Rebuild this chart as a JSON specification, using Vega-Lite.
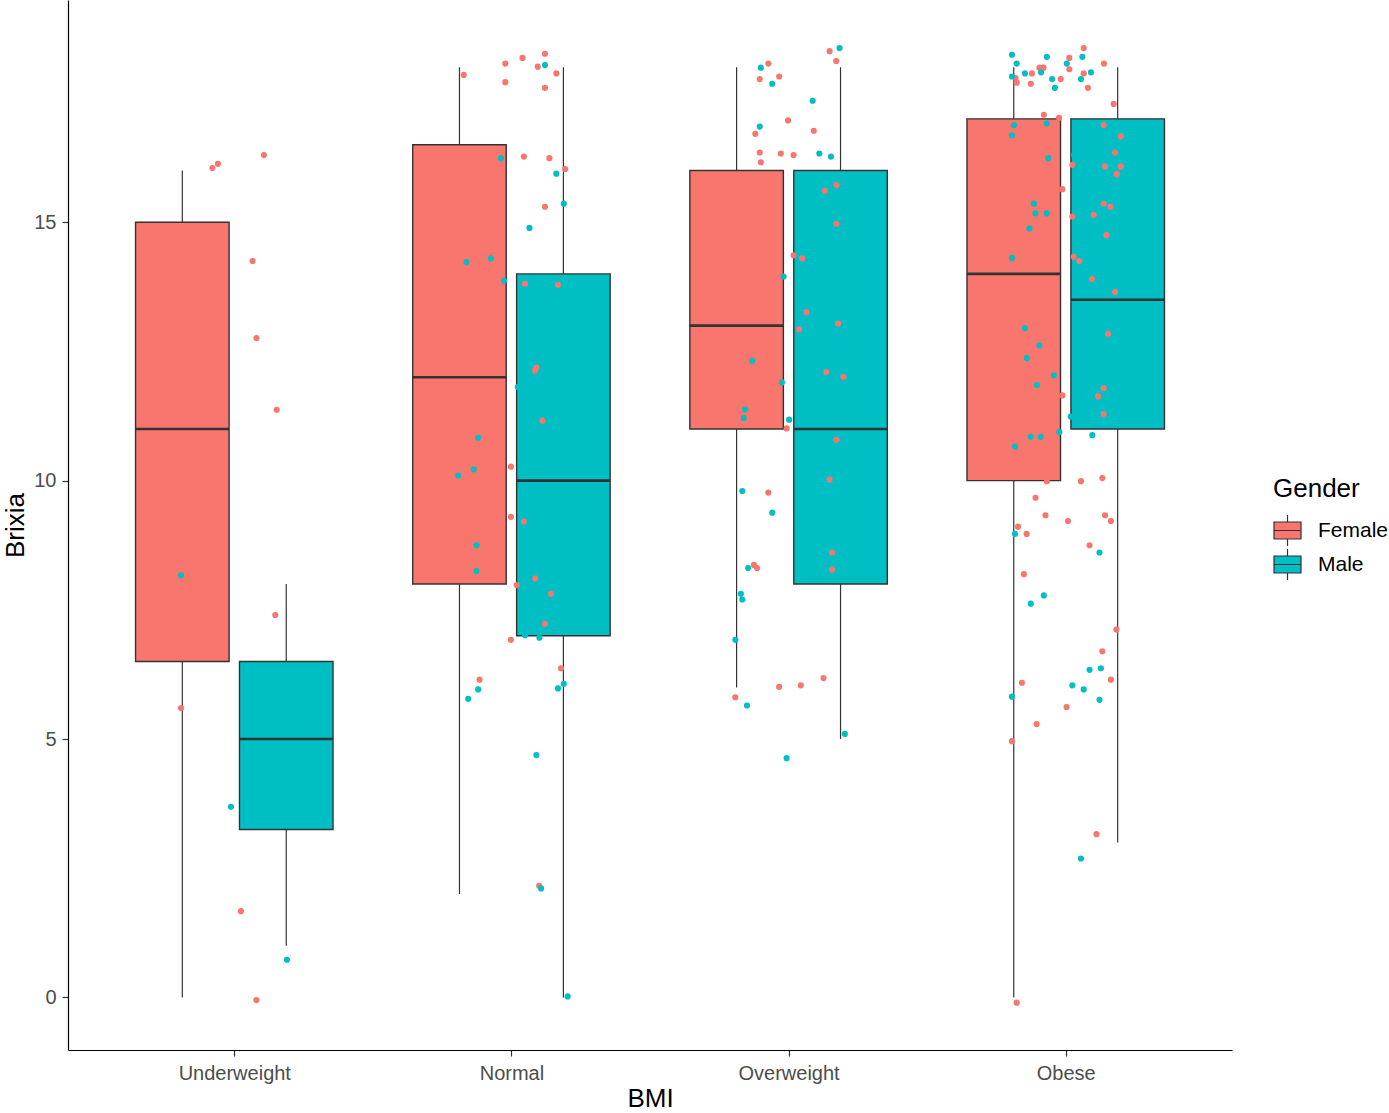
{
  "$schema": "https://vega.github.io/schema/vega-lite/v6.json",
  "width": 1164,
  "height": 1050,
  "autosize": {"type": "none"},
  "padding": {"left": 68, "top": 0, "right": 157, "bottom": 63},
  "background": "white",
  "config": {
    "view": {"stroke": null},
    "font": "Liberation Sans",
    "axis": {"grid": false, "domainColor": "#000000", "domainWidth": 1.2, "tickColor": "#333333", "tickSize": 6, "tickWidth": 1.2, "labelColor": "#4D4D4D", "labelFontSize": 20, "labelFont": "Liberation Sans", "titleFont": "Liberation Sans", "titleFontSize": 26, "titleFontWeight": "normal", "titleColor": "#000000"}
  },
  "datasets": {
    "boxes": [
      {"bmi": "Underweight", "cat": 1, "gender": "Female", "lo": 0, "q1": 6.5, "med": 11, "q3": 15, "hi": 16},
      {"bmi": "Underweight", "cat": 1, "gender": "Male", "lo": 1, "q1": 3.25, "med": 5, "q3": 6.5, "hi": 8},
      {"bmi": "Normal", "cat": 2, "gender": "Female", "lo": 2, "q1": 8, "med": 12, "q3": 16.5, "hi": 18},
      {"bmi": "Normal", "cat": 2, "gender": "Male", "lo": 0, "q1": 7, "med": 10, "q3": 14, "hi": 18},
      {"bmi": "Overweight", "cat": 3, "gender": "Female", "lo": 6, "q1": 11, "med": 13, "q3": 16, "hi": 18},
      {"bmi": "Overweight", "cat": 3, "gender": "Male", "lo": 5, "q1": 8, "med": 11, "q3": 16, "hi": 18},
      {"bmi": "Obese", "cat": 4, "gender": "Female", "lo": 0, "q1": 10, "med": 14, "q3": 17, "hi": 18},
      {"bmi": "Obese", "cat": 4, "gender": "Male", "lo": 3, "q1": 11, "med": 13.5, "q3": 17, "hi": 18}
    ],
    "points": [
      {"bmi": "Underweight", "gender": "Female", "pos": 0.921, "brixia": 16.05},
      {"bmi": "Underweight", "gender": "Female", "pos": 0.941, "brixia": 16.13},
      {"bmi": "Underweight", "gender": "Female", "pos": 1.107, "brixia": 16.30},
      {"bmi": "Underweight", "gender": "Female", "pos": 1.066, "brixia": 14.25},
      {"bmi": "Underweight", "gender": "Female", "pos": 1.080, "brixia": 12.76},
      {"bmi": "Underweight", "gender": "Female", "pos": 1.153, "brixia": 11.37},
      {"bmi": "Underweight", "gender": "Female", "pos": 1.148, "brixia": 7.40},
      {"bmi": "Underweight", "gender": "Female", "pos": 0.808, "brixia": 5.60},
      {"bmi": "Underweight", "gender": "Female", "pos": 1.024, "brixia": 1.67},
      {"bmi": "Underweight", "gender": "Female", "pos": 1.080, "brixia": -0.05},
      {"bmi": "Underweight", "gender": "Male", "pos": 0.808, "brixia": 8.17},
      {"bmi": "Underweight", "gender": "Male", "pos": 0.988, "brixia": 3.69},
      {"bmi": "Underweight", "gender": "Male", "pos": 1.190, "brixia": 0.73},

      {"bmi": "Normal", "gender": "Female", "pos": 1.828, "brixia": 17.85},
      {"bmi": "Normal", "gender": "Female", "pos": 1.978, "brixia": 18.07},
      {"bmi": "Normal", "gender": "Female", "pos": 2.040, "brixia": 18.18},
      {"bmi": "Normal", "gender": "Female", "pos": 2.121, "brixia": 18.26},
      {"bmi": "Normal", "gender": "Female", "pos": 2.095, "brixia": 18.01},
      {"bmi": "Normal", "gender": "Female", "pos": 2.162, "brixia": 17.88},
      {"bmi": "Normal", "gender": "Female", "pos": 1.978, "brixia": 17.71},
      {"bmi": "Normal", "gender": "Female", "pos": 2.121, "brixia": 17.60},
      {"bmi": "Normal", "gender": "Female", "pos": 2.045, "brixia": 16.27},
      {"bmi": "Normal", "gender": "Female", "pos": 2.137, "brixia": 16.24},
      {"bmi": "Normal", "gender": "Female", "pos": 2.194, "brixia": 16.03},
      {"bmi": "Normal", "gender": "Female", "pos": 2.121, "brixia": 15.30},
      {"bmi": "Normal", "gender": "Female", "pos": 2.049, "brixia": 13.81},
      {"bmi": "Normal", "gender": "Female", "pos": 2.168, "brixia": 13.79},
      {"bmi": "Normal", "gender": "Female", "pos": 2.090, "brixia": 12.19},
      {"bmi": "Normal", "gender": "Female", "pos": 2.085, "brixia": 12.13},
      {"bmi": "Normal", "gender": "Female", "pos": 2.112, "brixia": 11.16},
      {"bmi": "Normal", "gender": "Female", "pos": 1.998, "brixia": 10.27},
      {"bmi": "Normal", "gender": "Female", "pos": 1.998, "brixia": 9.30},
      {"bmi": "Normal", "gender": "Female", "pos": 2.045, "brixia": 9.21},
      {"bmi": "Normal", "gender": "Female", "pos": 2.086, "brixia": 8.11},
      {"bmi": "Normal", "gender": "Female", "pos": 2.019, "brixia": 7.98},
      {"bmi": "Normal", "gender": "Female", "pos": 2.143, "brixia": 7.81},
      {"bmi": "Normal", "gender": "Female", "pos": 2.121, "brixia": 7.23},
      {"bmi": "Normal", "gender": "Female", "pos": 1.998, "brixia": 6.92},
      {"bmi": "Normal", "gender": "Female", "pos": 2.179, "brixia": 6.37},
      {"bmi": "Normal", "gender": "Female", "pos": 1.885, "brixia": 6.15},
      {"bmi": "Normal", "gender": "Female", "pos": 2.100, "brixia": 2.16},
      {"bmi": "Normal", "gender": "Male", "pos": 2.121, "brixia": 18.04},
      {"bmi": "Normal", "gender": "Male", "pos": 1.962, "brixia": 16.24},
      {"bmi": "Normal", "gender": "Male", "pos": 2.162, "brixia": 15.94},
      {"bmi": "Normal", "gender": "Male", "pos": 2.189, "brixia": 15.36},
      {"bmi": "Normal", "gender": "Male", "pos": 2.065, "brixia": 14.89},
      {"bmi": "Normal", "gender": "Male", "pos": 1.838, "brixia": 14.23},
      {"bmi": "Normal", "gender": "Male", "pos": 1.926, "brixia": 14.30},
      {"bmi": "Normal", "gender": "Male", "pos": 1.973, "brixia": 13.87},
      {"bmi": "Normal", "gender": "Male", "pos": 2.023, "brixia": 11.81},
      {"bmi": "Normal", "gender": "Male", "pos": 1.880, "brixia": 10.83},
      {"bmi": "Normal", "gender": "Male", "pos": 1.864, "brixia": 10.22},
      {"bmi": "Normal", "gender": "Male", "pos": 1.808, "brixia": 10.10},
      {"bmi": "Normal", "gender": "Male", "pos": 1.874, "brixia": 8.75},
      {"bmi": "Normal", "gender": "Male", "pos": 1.874, "brixia": 8.25},
      {"bmi": "Normal", "gender": "Male", "pos": 2.049, "brixia": 7.01},
      {"bmi": "Normal", "gender": "Male", "pos": 2.101, "brixia": 6.96},
      {"bmi": "Normal", "gender": "Male", "pos": 1.880, "brixia": 5.96},
      {"bmi": "Normal", "gender": "Male", "pos": 1.844, "brixia": 5.78},
      {"bmi": "Normal", "gender": "Male", "pos": 2.168, "brixia": 5.98},
      {"bmi": "Normal", "gender": "Male", "pos": 2.189, "brixia": 6.07},
      {"bmi": "Normal", "gender": "Male", "pos": 2.090, "brixia": 4.69},
      {"bmi": "Normal", "gender": "Male", "pos": 2.107, "brixia": 2.11},
      {"bmi": "Normal", "gender": "Male", "pos": 2.203, "brixia": 0.02},

      {"bmi": "Overweight", "gender": "Female", "pos": 2.927, "brixia": 18.07},
      {"bmi": "Overweight", "gender": "Female", "pos": 2.896, "brixia": 17.77},
      {"bmi": "Overweight", "gender": "Female", "pos": 2.966, "brixia": 17.82},
      {"bmi": "Overweight", "gender": "Female", "pos": 3.148, "brixia": 18.31},
      {"bmi": "Overweight", "gender": "Female", "pos": 3.172, "brixia": 18.12},
      {"bmi": "Overweight", "gender": "Female", "pos": 2.998, "brixia": 16.97},
      {"bmi": "Overweight", "gender": "Female", "pos": 2.880, "brixia": 16.71},
      {"bmi": "Overweight", "gender": "Female", "pos": 3.091, "brixia": 16.77},
      {"bmi": "Overweight", "gender": "Female", "pos": 2.896, "brixia": 16.35},
      {"bmi": "Overweight", "gender": "Female", "pos": 2.900, "brixia": 16.16},
      {"bmi": "Overweight", "gender": "Female", "pos": 2.972, "brixia": 16.33},
      {"bmi": "Overweight", "gender": "Female", "pos": 3.018, "brixia": 16.30},
      {"bmi": "Overweight", "gender": "Female", "pos": 3.173, "brixia": 15.72},
      {"bmi": "Overweight", "gender": "Female", "pos": 3.131, "brixia": 15.61},
      {"bmi": "Overweight", "gender": "Female", "pos": 3.173, "brixia": 14.97},
      {"bmi": "Overweight", "gender": "Female", "pos": 3.018, "brixia": 14.36},
      {"bmi": "Overweight", "gender": "Female", "pos": 3.049, "brixia": 14.30},
      {"bmi": "Overweight", "gender": "Female", "pos": 3.064, "brixia": 13.26},
      {"bmi": "Overweight", "gender": "Female", "pos": 3.179, "brixia": 13.04},
      {"bmi": "Overweight", "gender": "Female", "pos": 3.038, "brixia": 12.93},
      {"bmi": "Overweight", "gender": "Female", "pos": 3.136, "brixia": 12.10},
      {"bmi": "Overweight", "gender": "Female", "pos": 3.198, "brixia": 12.01},
      {"bmi": "Overweight", "gender": "Female", "pos": 2.993, "brixia": 11.01},
      {"bmi": "Overweight", "gender": "Female", "pos": 3.173, "brixia": 10.79},
      {"bmi": "Overweight", "gender": "Female", "pos": 3.148, "brixia": 10.02},
      {"bmi": "Overweight", "gender": "Female", "pos": 2.927, "brixia": 9.77},
      {"bmi": "Overweight", "gender": "Female", "pos": 3.157, "brixia": 8.61},
      {"bmi": "Overweight", "gender": "Female", "pos": 3.157, "brixia": 8.28},
      {"bmi": "Overweight", "gender": "Female", "pos": 2.875, "brixia": 8.37},
      {"bmi": "Overweight", "gender": "Female", "pos": 2.886, "brixia": 8.31},
      {"bmi": "Overweight", "gender": "Female", "pos": 3.126, "brixia": 6.18},
      {"bmi": "Overweight", "gender": "Female", "pos": 3.044, "brixia": 6.04},
      {"bmi": "Overweight", "gender": "Female", "pos": 2.966, "brixia": 6.01},
      {"bmi": "Overweight", "gender": "Female", "pos": 2.808, "brixia": 5.81},
      {"bmi": "Overweight", "gender": "Male", "pos": 2.900, "brixia": 17.99},
      {"bmi": "Overweight", "gender": "Male", "pos": 2.941, "brixia": 17.68},
      {"bmi": "Overweight", "gender": "Male", "pos": 3.087, "brixia": 17.35},
      {"bmi": "Overweight", "gender": "Male", "pos": 3.184, "brixia": 18.37},
      {"bmi": "Overweight", "gender": "Male", "pos": 2.896, "brixia": 16.85},
      {"bmi": "Overweight", "gender": "Male", "pos": 3.111, "brixia": 16.33},
      {"bmi": "Overweight", "gender": "Male", "pos": 3.153, "brixia": 16.27},
      {"bmi": "Overweight", "gender": "Male", "pos": 2.982, "brixia": 13.95},
      {"bmi": "Overweight", "gender": "Male", "pos": 2.869, "brixia": 12.32},
      {"bmi": "Overweight", "gender": "Male", "pos": 2.976, "brixia": 11.90},
      {"bmi": "Overweight", "gender": "Male", "pos": 2.843, "brixia": 11.38},
      {"bmi": "Overweight", "gender": "Male", "pos": 2.838, "brixia": 11.21},
      {"bmi": "Overweight", "gender": "Male", "pos": 3.002, "brixia": 11.18},
      {"bmi": "Overweight", "gender": "Male", "pos": 2.833, "brixia": 9.80},
      {"bmi": "Overweight", "gender": "Male", "pos": 2.941, "brixia": 9.38},
      {"bmi": "Overweight", "gender": "Male", "pos": 2.854, "brixia": 8.31},
      {"bmi": "Overweight", "gender": "Male", "pos": 2.828, "brixia": 7.81},
      {"bmi": "Overweight", "gender": "Male", "pos": 2.833, "brixia": 7.70},
      {"bmi": "Overweight", "gender": "Male", "pos": 2.808, "brixia": 6.92},
      {"bmi": "Overweight", "gender": "Male", "pos": 2.850, "brixia": 5.65},
      {"bmi": "Overweight", "gender": "Male", "pos": 3.203, "brixia": 5.10},
      {"bmi": "Overweight", "gender": "Male", "pos": 2.993, "brixia": 4.63},

      {"bmi": "Obese", "gender": "Female", "pos": 3.819, "brixia": 17.79},
      {"bmi": "Obese", "gender": "Female", "pos": 3.823, "brixia": 17.70},
      {"bmi": "Obese", "gender": "Female", "pos": 3.878, "brixia": 17.88},
      {"bmi": "Obese", "gender": "Female", "pos": 3.874, "brixia": 17.68},
      {"bmi": "Obese", "gender": "Female", "pos": 3.905, "brixia": 17.99},
      {"bmi": "Obese", "gender": "Female", "pos": 3.920, "brixia": 17.99},
      {"bmi": "Obese", "gender": "Female", "pos": 3.982, "brixia": 17.77},
      {"bmi": "Obese", "gender": "Female", "pos": 4.013, "brixia": 18.18},
      {"bmi": "Obese", "gender": "Female", "pos": 4.013, "brixia": 17.96},
      {"bmi": "Obese", "gender": "Female", "pos": 4.065, "brixia": 18.37},
      {"bmi": "Obese", "gender": "Female", "pos": 4.065, "brixia": 17.88},
      {"bmi": "Obese", "gender": "Female", "pos": 4.080, "brixia": 17.60},
      {"bmi": "Obese", "gender": "Female", "pos": 4.138, "brixia": 18.07},
      {"bmi": "Obese", "gender": "Female", "pos": 4.173, "brixia": 17.29},
      {"bmi": "Obese", "gender": "Female", "pos": 3.921, "brixia": 17.08},
      {"bmi": "Obese", "gender": "Female", "pos": 3.976, "brixia": 17.02},
      {"bmi": "Obese", "gender": "Female", "pos": 4.137, "brixia": 16.88},
      {"bmi": "Obese", "gender": "Female", "pos": 4.199, "brixia": 16.66},
      {"bmi": "Obese", "gender": "Female", "pos": 4.178, "brixia": 16.35},
      {"bmi": "Obese", "gender": "Female", "pos": 4.024, "brixia": 16.11},
      {"bmi": "Obese", "gender": "Female", "pos": 4.142, "brixia": 16.08},
      {"bmi": "Obese", "gender": "Female", "pos": 4.199, "brixia": 16.08},
      {"bmi": "Obese", "gender": "Female", "pos": 4.184, "brixia": 15.93},
      {"bmi": "Obese", "gender": "Female", "pos": 3.988, "brixia": 15.64},
      {"bmi": "Obese", "gender": "Female", "pos": 4.024, "brixia": 15.11},
      {"bmi": "Obese", "gender": "Female", "pos": 4.101, "brixia": 15.14},
      {"bmi": "Obese", "gender": "Female", "pos": 4.137, "brixia": 15.36},
      {"bmi": "Obese", "gender": "Female", "pos": 4.162, "brixia": 15.30},
      {"bmi": "Obese", "gender": "Female", "pos": 4.147, "brixia": 14.75},
      {"bmi": "Obese", "gender": "Female", "pos": 4.029, "brixia": 14.33},
      {"bmi": "Obese", "gender": "Female", "pos": 4.049, "brixia": 14.25},
      {"bmi": "Obese", "gender": "Female", "pos": 4.095, "brixia": 13.90},
      {"bmi": "Obese", "gender": "Female", "pos": 4.178, "brixia": 13.65},
      {"bmi": "Obese", "gender": "Female", "pos": 4.153, "brixia": 12.84},
      {"bmi": "Obese", "gender": "Female", "pos": 3.988, "brixia": 11.65},
      {"bmi": "Obese", "gender": "Female", "pos": 4.137, "brixia": 11.79},
      {"bmi": "Obese", "gender": "Female", "pos": 4.117, "brixia": 11.63},
      {"bmi": "Obese", "gender": "Female", "pos": 4.137, "brixia": 11.29},
      {"bmi": "Obese", "gender": "Female", "pos": 3.932, "brixia": 9.99},
      {"bmi": "Obese", "gender": "Female", "pos": 4.055, "brixia": 9.99},
      {"bmi": "Obese", "gender": "Female", "pos": 4.132, "brixia": 10.05},
      {"bmi": "Obese", "gender": "Female", "pos": 3.891, "brixia": 9.67},
      {"bmi": "Obese", "gender": "Female", "pos": 3.927, "brixia": 9.33},
      {"bmi": "Obese", "gender": "Female", "pos": 4.008, "brixia": 9.22},
      {"bmi": "Obese", "gender": "Female", "pos": 4.142, "brixia": 9.33},
      {"bmi": "Obese", "gender": "Female", "pos": 4.163, "brixia": 9.22},
      {"bmi": "Obese", "gender": "Female", "pos": 3.828, "brixia": 9.11},
      {"bmi": "Obese", "gender": "Female", "pos": 3.859, "brixia": 8.97},
      {"bmi": "Obese", "gender": "Female", "pos": 4.086, "brixia": 8.75},
      {"bmi": "Obese", "gender": "Female", "pos": 3.849, "brixia": 8.19},
      {"bmi": "Obese", "gender": "Female", "pos": 4.183, "brixia": 7.12},
      {"bmi": "Obese", "gender": "Female", "pos": 4.132, "brixia": 6.70},
      {"bmi": "Obese", "gender": "Female", "pos": 4.163, "brixia": 6.15},
      {"bmi": "Obese", "gender": "Female", "pos": 3.842, "brixia": 6.09},
      {"bmi": "Obese", "gender": "Female", "pos": 4.003, "brixia": 5.62},
      {"bmi": "Obese", "gender": "Female", "pos": 3.895, "brixia": 5.29},
      {"bmi": "Obese", "gender": "Female", "pos": 3.806, "brixia": 4.96},
      {"bmi": "Obese", "gender": "Female", "pos": 4.111, "brixia": 3.16},
      {"bmi": "Obese", "gender": "Female", "pos": 3.823, "brixia": -0.10},
      {"bmi": "Obese", "gender": "Male", "pos": 3.806, "brixia": 18.24},
      {"bmi": "Obese", "gender": "Male", "pos": 3.823, "brixia": 18.07},
      {"bmi": "Obese", "gender": "Male", "pos": 3.806, "brixia": 17.82},
      {"bmi": "Obese", "gender": "Male", "pos": 3.853, "brixia": 17.88},
      {"bmi": "Obese", "gender": "Male", "pos": 3.911, "brixia": 17.90},
      {"bmi": "Obese", "gender": "Male", "pos": 3.932, "brixia": 18.20},
      {"bmi": "Obese", "gender": "Male", "pos": 3.951, "brixia": 17.77},
      {"bmi": "Obese", "gender": "Male", "pos": 3.961, "brixia": 17.60},
      {"bmi": "Obese", "gender": "Male", "pos": 4.004, "brixia": 18.07},
      {"bmi": "Obese", "gender": "Male", "pos": 4.060, "brixia": 18.20},
      {"bmi": "Obese", "gender": "Male", "pos": 4.055, "brixia": 17.77},
      {"bmi": "Obese", "gender": "Male", "pos": 4.091, "brixia": 17.90},
      {"bmi": "Obese", "gender": "Male", "pos": 3.813, "brixia": 16.88},
      {"bmi": "Obese", "gender": "Male", "pos": 3.806, "brixia": 16.68},
      {"bmi": "Obese", "gender": "Male", "pos": 3.932, "brixia": 16.91},
      {"bmi": "Obese", "gender": "Male", "pos": 3.937, "brixia": 16.24},
      {"bmi": "Obese", "gender": "Male", "pos": 4.030, "brixia": 16.30},
      {"bmi": "Obese", "gender": "Male", "pos": 3.885, "brixia": 15.36},
      {"bmi": "Obese", "gender": "Male", "pos": 3.891, "brixia": 15.17},
      {"bmi": "Obese", "gender": "Male", "pos": 3.932, "brixia": 15.17},
      {"bmi": "Obese", "gender": "Male", "pos": 3.869, "brixia": 14.88},
      {"bmi": "Obese", "gender": "Male", "pos": 3.806, "brixia": 14.31},
      {"bmi": "Obese", "gender": "Male", "pos": 3.853, "brixia": 12.95},
      {"bmi": "Obese", "gender": "Male", "pos": 3.905, "brixia": 12.62},
      {"bmi": "Obese", "gender": "Male", "pos": 3.860, "brixia": 12.37},
      {"bmi": "Obese", "gender": "Male", "pos": 3.957, "brixia": 12.04},
      {"bmi": "Obese", "gender": "Male", "pos": 3.896, "brixia": 11.85},
      {"bmi": "Obese", "gender": "Male", "pos": 4.018, "brixia": 11.24},
      {"bmi": "Obese", "gender": "Male", "pos": 3.977, "brixia": 10.94},
      {"bmi": "Obese", "gender": "Male", "pos": 3.874, "brixia": 10.85},
      {"bmi": "Obese", "gender": "Male", "pos": 3.910, "brixia": 10.85},
      {"bmi": "Obese", "gender": "Male", "pos": 3.817, "brixia": 10.66},
      {"bmi": "Obese", "gender": "Male", "pos": 4.096, "brixia": 10.88},
      {"bmi": "Obese", "gender": "Male", "pos": 3.817, "brixia": 8.97},
      {"bmi": "Obese", "gender": "Male", "pos": 4.122, "brixia": 8.61},
      {"bmi": "Obese", "gender": "Male", "pos": 3.921, "brixia": 7.78},
      {"bmi": "Obese", "gender": "Male", "pos": 3.874, "brixia": 7.62},
      {"bmi": "Obese", "gender": "Male", "pos": 4.086, "brixia": 6.34},
      {"bmi": "Obese", "gender": "Male", "pos": 4.127, "brixia": 6.37},
      {"bmi": "Obese", "gender": "Male", "pos": 4.024, "brixia": 6.04},
      {"bmi": "Obese", "gender": "Male", "pos": 4.065, "brixia": 5.96},
      {"bmi": "Obese", "gender": "Male", "pos": 3.806, "brixia": 5.82},
      {"bmi": "Obese", "gender": "Male", "pos": 4.122, "brixia": 5.76},
      {"bmi": "Obese", "gender": "Male", "pos": 4.055, "brixia": 2.69}
    ]
  },
  "layer": [
    {
      "data": {"name": "boxes"},
      "transform": [
        {"calculate": "datum.cat + (datum.gender === 'Female' ? -0.1875 : 0.1875)", "as": "center"}
      ],
      "mark": {"type": "rule", "color": "#333333", "strokeWidth": 1.2},
      "encoding": {
        "x": {"field": "center", "type": "quantitative", "scale": {"domain": [0.4, 4.6], "nice": false, "zero": false},
          "axis": {"title": "BMI", "values": [1, 2, 3, 4], "labelExpr": "['', 'Underweight', 'Normal', 'Overweight', 'Obese'][datum.value]", "labelPadding": 7, "titlePadding": 2}},
        "y": {"field": "lo", "type": "quantitative", "scale": {"domain": [-1.016, 19.3], "nice": false, "zero": false},
          "axis": {"title": "Brixia", "values": [0, 5, 10, 15], "labelPadding": 6, "titlePadding": 5}},
        "y2": {"field": "hi"}
      }
    },
    {
      "data": {"name": "boxes"},
      "transform": [
        {"calculate": "datum.cat + (datum.gender === 'Female' ? -0.1875 : 0.1875)", "as": "center"},
        {"calculate": "datum.center - 0.16875", "as": "left"},
        {"calculate": "datum.center + 0.16875", "as": "right"}
      ],
      "mark": {"type": "rect", "stroke": "#333333", "strokeWidth": 1.4},
      "encoding": {
        "x": {"field": "left", "type": "quantitative"},
        "x2": {"field": "right"},
        "y": {"field": "q1", "type": "quantitative"},
        "y2": {"field": "q3"},
        "color": {"field": "gender", "type": "nominal",
          "scale": {"domain": ["Female", "Male"], "range": ["#F8766D", "#00BFC4"]},
          "legend": {"title": "Gender", "orient": "none", "legendX": 1205, "legendY": 476,
            "titleFontSize": 26, "titleFont": "Liberation Sans", "titleFontWeight": "normal", "titleColor": "#000000", "titlePadding": 14,
            "labelFontSize": 21, "labelFont": "Liberation Sans", "labelColor": "#000000", "labelOffset": 16,
            "symbolType": "M-1,-0.63H1V0.63H-1Z M-1,0H1 M0,-0.63V-1.15 M0,0.63V1.15", "symbolSize": 729,
            "symbolStrokeColor": "#333333", "symbolStrokeWidth": 1.2, "symbolOpacity": 1, "rowPadding": -3}}
      }
    },
    {
      "data": {"name": "boxes"},
      "transform": [
        {"calculate": "datum.cat + (datum.gender === 'Female' ? -0.1875 : 0.1875)", "as": "center"},
        {"calculate": "datum.center - 0.16875", "as": "left"},
        {"calculate": "datum.center + 0.16875", "as": "right"}
      ],
      "mark": {"type": "rule", "color": "#333333", "strokeWidth": 2.6},
      "encoding": {
        "x": {"field": "left", "type": "quantitative"},
        "x2": {"field": "right"},
        "y": {"field": "med", "type": "quantitative"}
      }
    },
    {
      "data": {"name": "points"},
      "mark": {"type": "circle", "size": 38, "opacity": 1},
      "encoding": {
        "x": {"field": "pos", "type": "quantitative"},
        "y": {"field": "brixia", "type": "quantitative"},
        "color": {"field": "gender", "type": "nominal"}
      }
    }
  ]
}
